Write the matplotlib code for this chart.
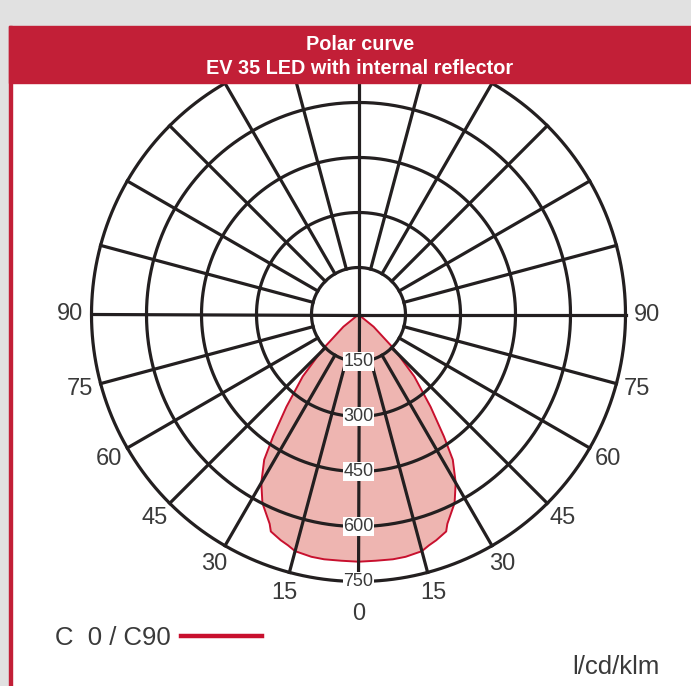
import numpy as np
import matplotlib
matplotlib.use("Agg")
import matplotlib.pyplot as plt
from matplotlib.patches import Rectangle
from matplotlib.lines import Line2D

# DATA
gamma_deg = [0, 4, 8, 11, 15, 17, 19, 22, 23, 27, 30, 33, 35, 38, 42, 46, 51, 55, 90]
intensity = [696, 695, 696, 695, 690, 680, 673, 660, 642, 599, 552, 494, 428, 341, 249, 155, 62, 0, 0]
ring_values = [150, 300, 450, 600, 750]
spoke_angles = [15, 30, 45, 60, 75]
angle_labels = [0, 15, 30, 45, 60, 75, 90]
title_lines = ["Polar curve", "EV 35 LED with internal reflector"]
legend_label = "C  0 / C90"
unit_label = "l/cd/klm"

# COLOURS
ink = "#231f20"
txt = "#3a3a3a"
header_red = "#c21f37"
curve_red = "#c8102e"
fill_pink = "#eeb5b1"
frame_grey = "#e1e1e1"

plt.rcParams["font.family"] = ["Liberation Sans", "DejaVu Sans"]

W, H = 691, 686
fig = plt.figure(figsize=(W / 100, H / 100), dpi=100)
fig.patch.set_facecolor("white")

# the drawing's radial scale is not quite linear: inner ring sits a bit closer in
def fwd(v):
    v = np.asarray(v, dtype=float)
    return np.where(v < 150, v * 47 / 150, 47 + (v - 150) * 220 / 600)

def inv(p):
    p = np.asarray(p, dtype=float)
    return np.where(p < 47, p * 150 / 47, 150 + (p - 47) * 600 / 220)

cx, cy, R = 358.5, 314.5, 267
ax = fig.add_axes([(cx - R) / W, (H - cy - R) / H, 2 * R / W, 2 * R / H], projection="polar")
ax.set_theta_zero_location("S")
ax.set_rscale("function", functions=(fwd, inv))
ax.set_rlim(0, 750)
ax.grid(False)
ax.set_xticks([])
ax.set_yticks([])
ax.spines["polar"].set_visible(False)
ax.patch.set_alpha(0)

# CURVE (symmetric C0/C90)
g = np.radians(gamma_deg)
theta = np.concatenate([-g[::-1], g[1:]])
r = np.concatenate([intensity[::-1], intensity[1:]])
ax.fill(theta, r, facecolor=fill_pink, edgecolor=curve_red, lw=1.4, zorder=1)

# GRID
lw = 2.3
th = np.linspace(0, 2 * np.pi, 721)
for v in ring_values:
    ax.plot(th, np.full_like(th, v), color=ink, lw=lw, clip_on=False, zorder=2)
for a in [0, 90, 180, 270]:
    ax.plot(np.radians([a, a]), [0, 750], color=ink, lw=lw, clip_on=False, zorder=2)
for a in spoke_angles:
    for t in [a, -a, 180 + a, 180 - a]:
        ax.plot(np.radians([t, t]), [150, 750], color=ink, lw=lw, clip_on=False, zorder=2)

# LABELS
for v in ring_values:
    ax.text(0, v, str(v), ha="center", va="center", fontsize=13, color=txt, zorder=3,
            bbox=dict(facecolor="white", edgecolor="none", pad=0.5))
for a in angle_labels:
    if a == 0:
        ax.text(0, 840, "0", ha="center", va="center", fontsize=17, color=txt, clip_on=False)
    else:
        for t in [a, -a]:
            ax.text(np.radians(t), 808, str(a), ha="center", va="center", fontsize=17,
                    color=txt, clip_on=False)

# FRAME AND HEADER
fig.add_artist(Rectangle((0, 1 - 26 / H), 1, 26 / H, transform=fig.transFigure,
                         color=frame_grey, zorder=5))
fig.add_artist(Rectangle((0, 0), 9 / W, 1, transform=fig.transFigure, color=frame_grey, zorder=5))
fig.add_artist(Rectangle((9 / W, 0), 2.5 / W, 1 - 26 / H, transform=fig.transFigure,
                         color=header_red, zorder=5))
fig.add_artist(Rectangle((9 / W, 1 - 83 / H), 1, 57 / H, transform=fig.transFigure,
                         color=header_red, zorder=5))
for line, y in zip(title_lines, [44, 69]):
    fig.text(360 / W, 1 - y / H, line, ha="center", va="center", color="white",
             fontsize=14.3, fontweight="bold", zorder=6)

# LEGEND AND UNIT
handle = Line2D([], [], color=curve_red, lw=3.2)
fig.legend([handle], [legend_label], loc="center left", bbox_to_anchor=(55 / W, 1 - 638 / H),
           frameon=False, markerfirst=False, fontsize=18.5, handlelength=3.15,
           handletextpad=0.4, borderpad=0, borderaxespad=0, labelcolor=txt)
fig.text(660 / W, 1 - 667 / H, unit_label, ha="right", va="center", fontsize=18.5, color=txt)

fig.savefig("out.png", dpi=100)
